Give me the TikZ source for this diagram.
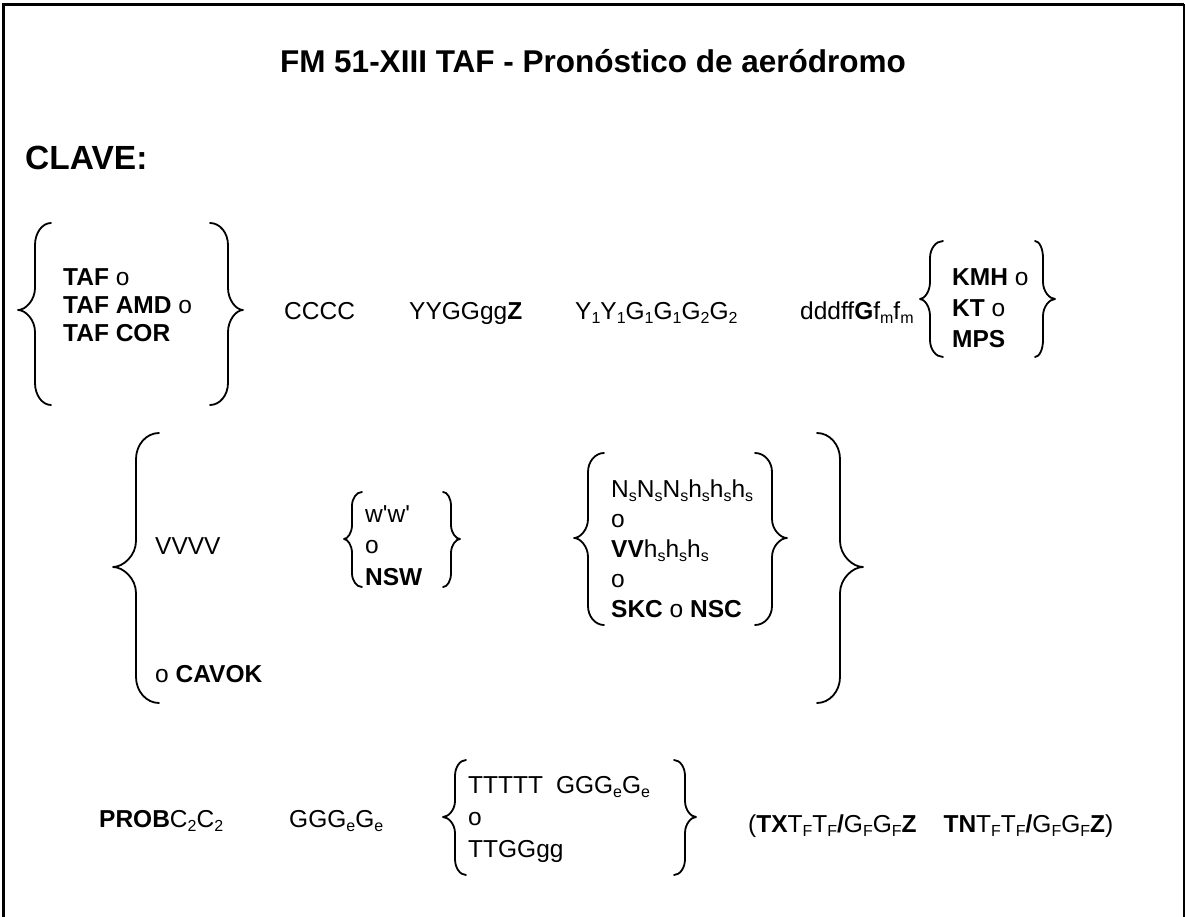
\documentclass[tikz,border=0pt]{standalone}
\usepackage{fontspec}
\setmainfont{Liberation Sans}
\newcommand\subx[1]{\raisebox{-0.2em}{\fontsize{16}{16}\selectfont\mdseries #1}}
% #1 curl-end x, #2 stem x, #3 tip x, #4 top y, #5 tip y, #6 bottom y, #7 curve height
\newcommand\cbrace[7]{\draw[brc] (#1,#4) .. controls ({#2+0.45*(#1-#2)},#4) and (#2,{#4+0.45*#7}) .. (#2,#4+#7)
  -- (#2,#5-#7) .. controls (#2,{#5-0.45*#7}) and ({#3+0.45*(#2-#3)},#5) .. (#3,#5)
  .. controls ({#3+0.45*(#2-#3)},#5) and (#2,{#5+0.45*#7}) .. (#2,#5+#7)
  -- (#2,#6-#7) .. controls (#2,{#6-0.45*#7}) and ({#2+0.45*(#1-#2)},#6) .. (#1,#6);}
\tikzset{
  brc/.style={line width=1.8pt, line cap=round, line join=round},
  txt/.style={anchor=base west, inner sep=0pt, font=\fontsize{24.5}{28}\selectfont}
}
\begin{document}
\begin{tikzpicture}[x=1pt, y=-1pt]
\useasboundingbox (0,0) rectangle (1185,917);
\draw[line width=3pt] (3,917) -- (3,4.5) -- (1184,4.5);
\draw[line width=2pt] (1183.5,4.5) -- (1183.5,917);
% title
\node[anchor=base, inner sep=0pt, font=\fontsize{31.5}{36}\selectfont\bfseries] (title) at (593,73) {FM 51-XIII TAF - Pronóstico de aeródromo};
\node[anchor=base west, inner sep=0pt, font=\fontsize{33.5}{38}\selectfont\bfseries] (clave) at (25,170) {CLAVE:};
% row 1
\cbrace{51}{35}{18}{223}{310}{405}{22}
\cbrace{210}{228}{243}{223}{310}{405}{22}
\node[txt] (taf1) at (63,285) {\textbf{TAF} o};
\node[txt] (taf2) at (63,313) {\textbf{TAF AMD} o};
\node[txt] (taf3) at (63,341) {\textbf{TAF COR}};
\node[txt] (cccc) at (284,319) {CCCC};
\node[txt] (yygg) at (409,319) {YYGGgg\textbf{Z}};
\node[txt] (y1) at (575,319) {Y\subx{1}Y\subx{1}G\subx{1}G\subx{1}G\subx{2}G\subx{2}};
\node[txt] (ddd) at (800,319) {dddff\textbf{G}f\subx{m}f\subx{m}};
\cbrace{943}{930}{920}{241}{299}{357}{17}
\cbrace{1035}{1043}{1055}{241}{299}{357}{17}
\node[txt] (kmh) at (952,285) {\textbf{KMH} o};
\node[txt] (kt) at (952,316) {\textbf{KT} o};
\node[txt] (mps) at (952,347) {\textbf{MPS}};
% row 2
\cbrace{159}{136}{113}{433}{567}{703}{26}
\cbrace{817}{840}{863}{433}{567}{703}{26}
\node[txt] (vvvv) at (155,554) {VVVV};
\node[txt] (cavok) at (155,682) {o \textbf{CAVOK}};
\cbrace{362}{352}{344}{492}{539}{587}{14}
\cbrace{443}{451}{460}{492}{539}{587}{14}
\node[txt] (ww) at (365,522) {w\textquotesingle w\textquotesingle};
\node[txt] (wwo) at (365,553) {o};
\node[txt] (nsw) at (365,585) {\textbf{NSW}};
\cbrace{604}{588}{574}{453}{538}{625}{19}
\cbrace{755}{772}{787}{453}{538}{625}{19}
\node[txt] (ns) at (611,497) {N\subx{s}N\subx{s}N\subx{s}h\subx{s}h\subx{s}h\subx{s}};
\node[txt] (nso) at (611,527) {o};
\node[txt] (vv) at (611,557) {\textbf{VV}h\subx{s}h\subx{s}h\subx{s}};
\node[txt] (vvo) at (611,587) {o};
\node[txt] (skc) at (611,617) {\textbf{SKC} o \textbf{NSC}};
% row 3
\node[txt] (prob) at (99,827) {\textbf{PROB}C\subx{2}C\subx{2}};
\node[txt] (gggg) at (289,827) {GGG\subx{e}G\subx{e}};
\cbrace{466}{455}{443}{760}{817}{875}{16}
\cbrace{674}{685}{696}{760}{817}{875}{16}
\node[txt] (ttt) at (468,793) {TTTTT\hspace{13pt}GGG\subx{e}G\subx{e}};
\node[txt] (tto) at (468,825) {o};
\node[txt] (ttgg) at (468,857) {TTGGgg};
\node[txt] (tx) at (748,832) {(\textbf{TX}T\subx{F}T\subx{F}\textbf{/}G\subx{F}G\subx{F}\textbf{Z}\hspace{1.1em}\textbf{TN}T\subx{F}T\subx{F}\textbf{/}G\subx{F}G\subx{F}\textbf{Z})};
\end{tikzpicture}
\end{document}
